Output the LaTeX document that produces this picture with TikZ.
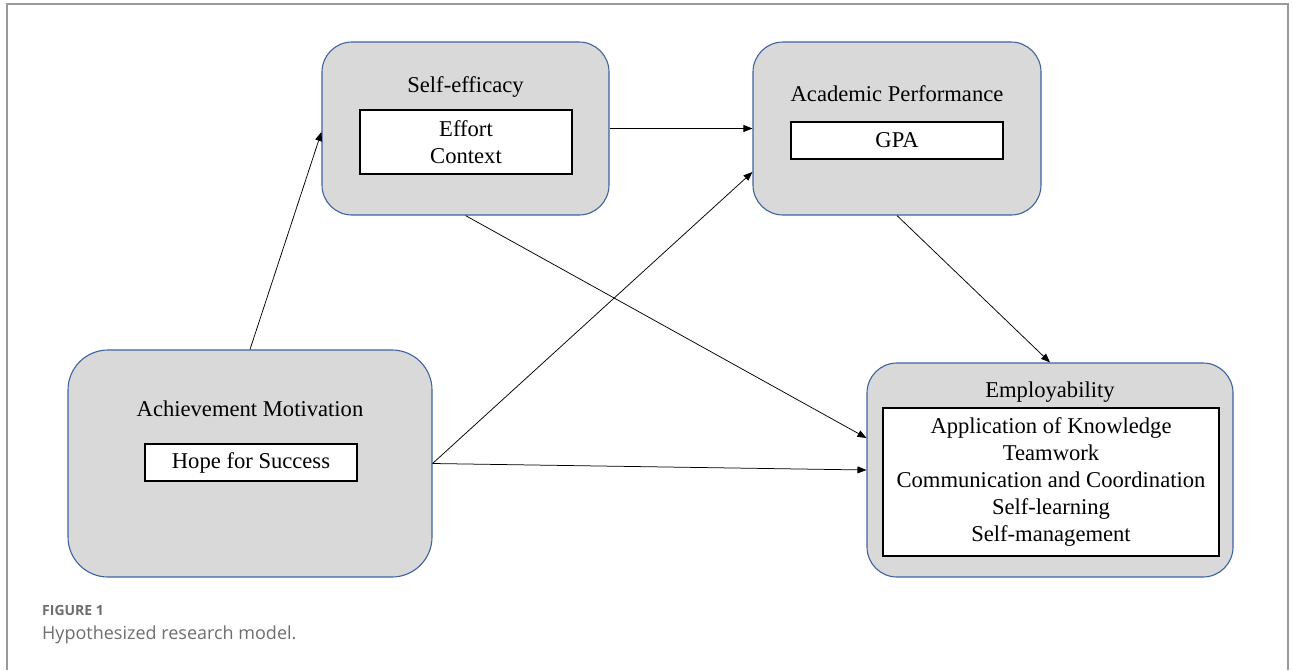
\documentclass[tikz,border=0pt]{standalone}
\usepackage{fontspec}
\setmainfont{Liberation Serif}
\newfontfamily\capfont{Open Sans}
\usepackage{xcolor}
\usetikzlibrary{positioning, arrows.meta}

\definecolor{boxgray}{HTML}{D9D9D9}
\definecolor{boxblue}{HTML}{3F62A0}
\definecolor{capgray}{HTML}{6E6E6E}
\definecolor{framegray}{HTML}{9A9A9A}

\tikzset{
  outer/.style={draw=boxblue, fill=boxgray, line width=1.1pt, rounded corners=30pt, inner sep=0pt},
  inner/.style={draw=black, fill=white, line width=1.2pt, inner sep=0pt, align=center,
    font=\fontsize{22.6}{27}\selectfont},
  title/.style={anchor=base, inner sep=0pt, font=\fontsize{22.6}{27}\selectfont},
  link/.style={-{Triangle[length=9pt, width=7pt]}, line width=0.75pt}
}

\begin{document}
\begin{tikzpicture}[x=1pt, y=-1pt]
                \useasboundingbox (0,0) rectangle (1293,670);
                \draw[framegray, line width=1.5pt] (7,670) -- (7,4) -- (1288,4) -- (1288,670);

                \node[outer, minimum width=287pt, minimum height=173pt] (se) at (465.5, 128.5) {};
                \node[outer, minimum width=288pt, minimum height=173pt] (ap) at (897, 128.5) {};
                \node[outer, minimum width=364pt, minimum height=227pt, rounded corners=40pt] (am) at (250, 463.5) {};
                \node[outer, minimum width=366pt, minimum height=214pt] (emp) at (1050, 470) {};

                \node[title] (seT) at (465.5, 92) {Self-efficacy};
                \node[title] (apT) at (897, 101) {Academic Performance};
                \node[title] (amT) at (250, 416) {Achievement Motivation};
                \node[title] (empT) at (1050, 397) {Employability};

                \node[inner, minimum width=212pt, minimum height=64pt] (seIn) at (466, 142) {Effort\\Context};
                \node[inner, minimum width=212pt, minimum height=37pt] (apIn) at (897, 140.5) {GPA};
                \node[inner, minimum width=212pt, minimum height=37pt] (amIn) at (251, 462.5) {Hope for Success};
                \node[inner, minimum width=336pt, minimum height=148pt] (empIn) at (1051, 482)
                  {Application of Knowledge\\Teamwork\\Communication and Coordination\\Self-learning\\Self-management};

                \draw[link] (am.north) -- ([yshift=-3.5pt]se.west);
                \draw[link] (se.east) -- (ap.west);
                \draw[link] (am.east) -- ([yshift=-43.5pt]ap.west);
                \draw[link] (se.south) -- ([yshift=32pt]emp.west);
                \draw[link] (ap.south) -- (emp.north);
                \draw[link] (am.east) -- (emp.west);

                \node[anchor=base west, inner sep=0pt, text=capgray, font=\capfont\bfseries\fontsize{14}{16}\selectfont] (figno) at (42, 615) {FIGURE 1};
                \node[anchor=base west, inner sep=0pt, text=capgray, font=\capfont\fontsize{18}{20}\selectfont] (figcap) at (42, 639) {Hypothesized research model.};
            \end{tikzpicture}
\end{document}
